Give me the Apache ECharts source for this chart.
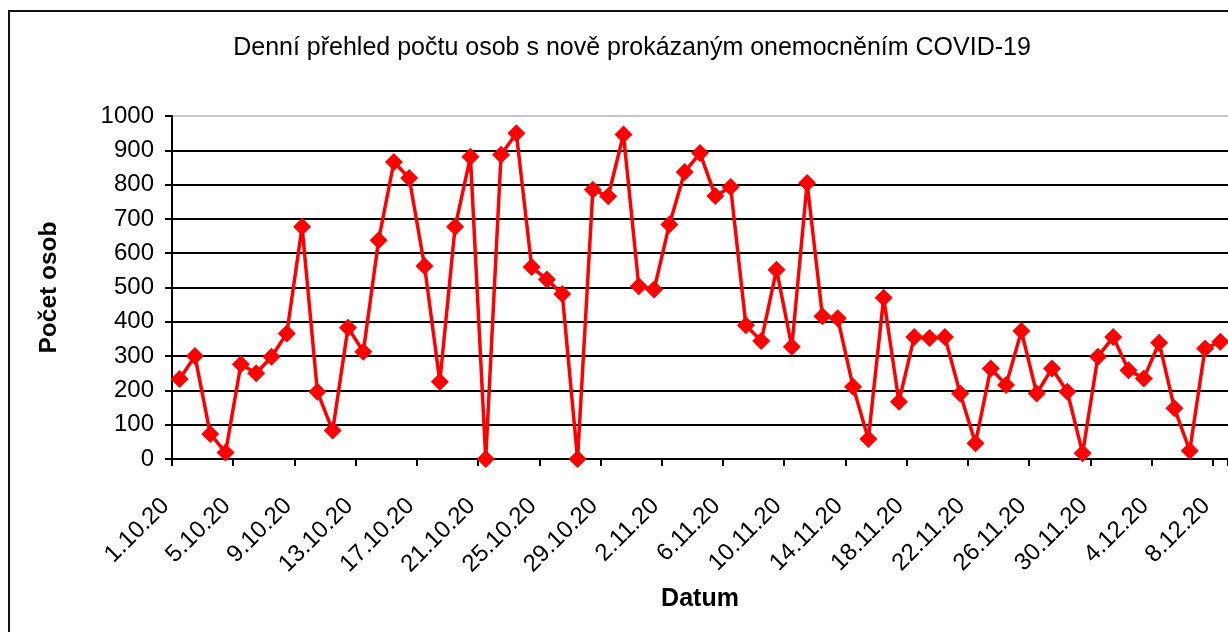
<!DOCTYPE html>
<html>
<head>
<meta charset="utf-8">
<script src="https://cdn.jsdelivr.net/npm/echarts@6/dist/echarts.min.js"></script>
<style>html,body{margin:0;padding:0;background:#fff}#c{width:1228px;height:632px}</style>
</head>
<body>
<div id="c"></div>
<script>
const titleText = 'Denní přehled počtu osob s nově prokázaným onemocněním COVID-19';
const xAxisName = 'Datum';
const yAxisName = 'Počet osob';
const categories = [
  '1.10.20','2.10.20','3.10.20','4.10.20','5.10.20','6.10.20','7.10.20','8.10.20','9.10.20','10.10.20',
  '11.10.20','12.10.20','13.10.20','14.10.20','15.10.20','16.10.20','17.10.20','18.10.20','19.10.20','20.10.20',
  '21.10.20','22.10.20','23.10.20','24.10.20','25.10.20','26.10.20','27.10.20','28.10.20','29.10.20','30.10.20',
  '31.10.20','1.11.20','2.11.20','3.11.20','4.11.20','5.11.20','6.11.20','7.11.20','8.11.20','9.11.20',
  '10.11.20','11.11.20','12.11.20','13.11.20','14.11.20','15.11.20','16.11.20','17.11.20','18.11.20','19.11.20',
  '20.11.20','21.11.20','22.11.20','23.11.20','24.11.20','25.11.20','26.11.20','27.11.20','28.11.20','29.11.20',
  '30.11.20','1.12.20','2.12.20','3.12.20','4.12.20','5.12.20','6.12.20','7.12.20','8.12.20'
];
const values = [
  233, 300, 73, 19, 276, 250, 298, 366, 677, 196,
  83, 383, 313, 638, 866, 819, 563, 225, 677, 881,
  0, 887, 950, 560, 523, 481, 0, 785, 766, 946,
  504, 494, 684, 837, 892, 767, 793, 390, 344, 552,
  327, 805, 416, 410, 211, 58, 470, 167, 356, 353,
  356, 191, 46, 264, 216, 373, 191, 264, 196, 17,
  298, 356, 259, 235, 339, 148, 24, 322, 342
];
const yMin = 0, yMax = 1000, yStep = 100;

const chart = echarts.init(document.getElementById('c'), null, {renderer: 'canvas'});
const font = 'Liberation Sans, Arial, sans-serif';
const splitColors = [];
for (let v = yMin; v <= yMax; v += yStep) splitColors.push(v === yMax ? '#c8c8c8' : '#000000');

chart.setOption({
  backgroundColor: '#ffffff',
  animation: false,
  title: {
    text: titleText,
    left: 627,
    top: 31,
    textAlign: 'center',
    textStyle: {fontFamily: font, fontSize: 25, fontWeight: 'normal', color: '#000'}
  },
  graphic: [{
    type: 'rect', z: -10, silent: true,
    shape: {x: 9, y: 11, width: 1400, height: 800},
    style: {fill: 'none', stroke: '#111', lineWidth: 2}
  }],
  grid: {left: 172, right: -2, top: 116, bottom: 173, containLabel: false},
  xAxis: {
    type: 'category',
    data: categories,
    boundaryGap: true,
    name: xAxisName,
    nameLocation: 'middle',
    nameGap: 128,
    nameTextStyle: {fontFamily: font, fontSize: 25, fontWeight: 'bold', color: '#000'},
    axisLine: {lineStyle: {color: '#000', width: 2}},
    axisTick: {show: true, interval: (i) => i % 4 === 0, length: 7, lineStyle: {color: '#000', width: 2}},
    axisLabel: {
      interval: 3, rotate: 45, margin: 29,
      fontFamily: font, fontSize: 24, color: '#000',
      padding: [0, 20, 0, 0]
    },
    splitLine: {show: false}
  },
  yAxis: {
    type: 'value',
    min: yMin, max: yMax, interval: yStep,
    name: yAxisName,
    nameLocation: 'middle',
    nameGap: 110,
    nameTextStyle: {fontFamily: font, fontSize: 24.5, fontWeight: 'bold', color: '#000'},
    axisLine: {show: true, lineStyle: {color: '#000', width: 2}},
    axisTick: {show: true, length: 7, lineStyle: {color: '#000', width: 2}},
    axisLabel: {margin: 18, fontFamily: font, fontSize: 24, color: '#000', formatter: v => String(v)},
    splitLine: {show: true, lineStyle: {color: splitColors, width: 2}}
  },
  series: [{
    type: 'line',
    data: values,
    symbol: 'diamond',
    symbolSize: 18,
    showAllSymbol: true,
    lineStyle: {color: '#ff0000', width: 3.5},
    itemStyle: {color: '#ff0000'},
    z: 5
  }]
});
</script>
</body>
</html>
